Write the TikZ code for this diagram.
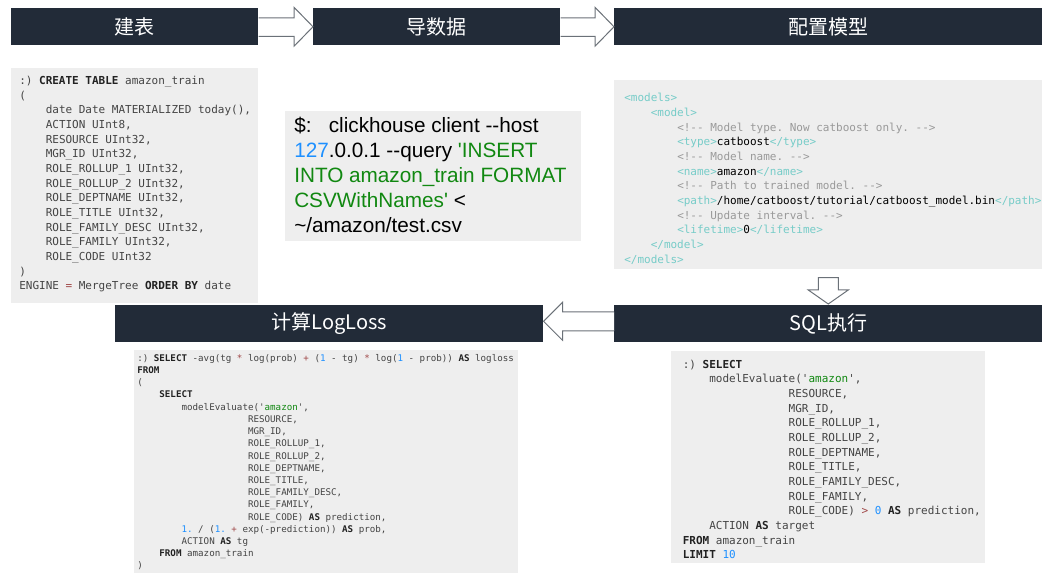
\documentclass[tikz,border=0pt]{standalone}
\usepackage{fontspec}
\usetikzlibrary{calc}
\newfontfamily\plainfont{Liberation Sans}
\newfontfamily\cjkfont{Noto Sans CJK SC}
\newfontfamily\codefont{DejaVu Sans Mono}
\AtBeginDocument{\frenchspacing}
\definecolor{barcol}{HTML}{222B38}
\definecolor{boxcol}{HTML}{EEEEEE}
\definecolor{codecol}{HTML}{444444}
\definecolor{kwcol}{HTML}{222222}
\definecolor{strcol}{HTML}{118811}
\definecolor{numcol}{HTML}{1E90FF}
\definecolor{opcol}{HTML}{A04848}
\definecolor{tagcol}{HTML}{76CCC8}
\definecolor{cmtcol}{HTML}{999999}
\definecolor{arrowcol}{HTML}{6B7178}
\newcommand\ind[1]{\hspace*{\dimexpr#1\fontcharwd\font`0\relax}}
\newcommand\kw[1]{\textcolor{kwcol}{\bfseries #1}}
\newcommand\str[1]{\textcolor{strcol}{#1}}
\newcommand\num[1]{\textcolor{numcol}{#1}}
\newcommand\op[1]{\textcolor{opcol}{#1}}
\newcommand\tg[1]{\textcolor{tagcol}{#1}}
\newcommand\cmt[1]{\textcolor{cmtcol}{#1}}
\tikzset{
  titlebar/.style={fill=barcol,text=white,inner sep=0,anchor=north west,font=\cjkfont\fontsize{15}{18}\selectfont},
  codebox/.style={fill=boxcol,inner sep=0,anchor=north west},
  codetext/.style={inner sep=0,anchor=north west,align=left,text=codecol,font=\codefont\fontsize{8.25}{11}\selectfont},
  smalltext/.style={inner sep=0,anchor=north west,align=left,text=codecol,font=\codefont\fontsize{6.9}{9.16}\selectfont},
  blockarrow/.style={fill=white,draw=arrowcol,line width=0.75pt,line join=miter},
}
\begin{document}
\begin{tikzpicture}[x=0.75pt,y=-0.75pt]
\useasboundingbox (0,0) rectangle (1047,573);
% title bars
\node[titlebar,minimum width=185.25pt,minimum height=27.75pt] (bara) at (11,8) {建表};
\node[titlebar,minimum width=185.25pt,minimum height=27.75pt] (barb) at (313,8) {导数据};
\node[titlebar,minimum width=321pt,minimum height=27.75pt] (barc) at (614,8) {配置模型};
\node[titlebar,minimum width=321pt,minimum height=27.75pt] (bare) at (115,305) {计算LogLoss};
\node[titlebar,minimum width=321pt,minimum height=27.75pt] (bard) at (614,305) {SQL执行};
% grey boxes
\node[codebox,minimum width=185.25pt,minimum height=176.25pt] (boxa) at (11,68) {};
\node[codebox,minimum width=222pt,minimum height=97.5pt] (boxb) at (285,111) {};
\node[codebox,minimum width=321pt,minimum height=141.75pt] (boxc) at (614,80) {};
\node[codebox,minimum width=235.5pt,minimum height=159pt] (boxd) at (671,351) {};
\node[codebox,minimum width=288pt,minimum height=167.25pt] (boxe) at (134,350) {};
% arrows
\filldraw[blockarrow] ($(bara.east)+(0,-9)$) -- ($(barb.west)+(-19,-9)$) -- ($(barb.west)+(-19,-19.5)$) -- (barb.west) -- ($(barb.west)+(-19,19.5)$) -- ($(barb.west)+(-19,9.5)$) -- ($(bara.east)+(0,9.5)$);
\filldraw[blockarrow] ($(barb.east)+(0,-9)$) -- ($(barc.west)+(-19,-9)$) -- ($(barc.west)+(-19,-19.5)$) -- (barc.west) -- ($(barc.west)+(-19,19.5)$) -- ($(barc.west)+(-19,9.5)$) -- ($(barb.east)+(0,9.5)$);
\coordinate (downstart) at ($(boxc.south)+(0,8)$);
\coordinate (downend) at ($(bard.north)+(0,-1)$);
\filldraw[blockarrow] ($(downstart)+(-10,0)$) -- ($(downstart)+(10,0)$) -- ($(downend)+(10,-14)$) -- ($(downend)+(20,-14)$) -- (downend) -- ($(downend)+(-20,-14)$) -- ($(downend)+(-10,-14)$) -- cycle;
\coordinate (leftstart) at ($(bard.west)+(0,-2.5)$);
\coordinate (leftend) at ($(bare.east)+(0,-2.5)$);
\filldraw[blockarrow] ($(leftstart)+(0,-9.5)$) -- ($(leftend)+(19,-9.5)$) -- ($(leftend)+(19,-19)$) -- (leftend) -- ($(leftend)+(19,19)$) -- ($(leftend)+(19,9.5)$) -- ($(leftstart)+(0,9.5)$);
% code
\node[codetext] (texta) at (19,76) {:) \kw{CREATE} \kw{TABLE} amazon\_train\\
(\\
\ind{4}date Date MATERIALIZED today(),\\
\ind{4}ACTION UInt8,\\
\ind{4}RESOURCE UInt32,\\
\ind{4}MGR\_ID UInt32,\\
\ind{4}ROLE\_ROLLUP\_1 UInt32,\\
\ind{4}ROLE\_ROLLUP\_2 UInt32,\\
\ind{4}ROLE\_DEPTNAME UInt32,\\
\ind{4}ROLE\_TITLE UInt32,\\
\ind{4}ROLE\_FAMILY\_DESC UInt32,\\
\ind{4}ROLE\_FAMILY UInt32,\\
\ind{4}ROLE\_CODE UInt32\\
)\\
ENGINE \op{=} MergeTree \kw{ORDER} \kw{BY} date};
\node[inner sep=0,anchor=north west,align=left,font=\plainfont\fontsize{15.55}{18.75}\selectfont] (textb) at (294,117) {\$:\ \ \ clickhouse client --host\\
\num{127}.0.0.1 --query \str{'INSERT}\\
\str{INTO amazon\_train FORMAT}\\
\str{CSVWithNames'} <\\
\textasciitilde/amazon/test.csv};
\node[codetext] (textc) at (624,93) {\tg{<models>}\\
\ind{4}\tg{<model>}\\
\ind{8}\cmt{<!-{}- Model type. Now catboost only. -{}->}\\
\ind{8}\tg{<type>}\textcolor{black}{catboost}\tg{</type>}\\
\ind{8}\cmt{<!-{}- Model name. -{}->}\\
\ind{8}\tg{<name>}\textcolor{black}{amazon}\tg{</name>}\\
\ind{8}\cmt{<!-{}- Path to trained model. -{}->}\\
\ind{8}\tg{<path>}\textcolor{black}{/home/catboost/tutorial/catboost\_model.bin}\tg{</path>}\\
\ind{8}\cmt{<!-{}- Update interval. -{}->}\\
\ind{8}\tg{<lifetime>}\textcolor{black}{0}\tg{</lifetime>}\\
\ind{4}\tg{</model>}\\
\tg{</models>}};
\node[codetext] (textd) at (682.5,359.5) {:) \kw{SELECT}\\
\ind{4}modelEvaluate('\str{amazon}',\\
\ind{16}RESOURCE,\\
\ind{16}MGR\_ID,\\
\ind{16}ROLE\_ROLLUP\_1,\\
\ind{16}ROLE\_ROLLUP\_2,\\
\ind{16}ROLE\_DEPTNAME,\\
\ind{16}ROLE\_TITLE,\\
\ind{16}ROLE\_FAMILY\_DESC,\\
\ind{16}ROLE\_FAMILY,\\
\ind{16}ROLE\_CODE) \op{>} \num{0} \kw{AS} prediction,\\
\ind{4}ACTION \kw{AS} target\\
\kw{FROM} amazon\_train\\
\kw{LIMIT} \num{10}};
\node[smalltext] (texte) at (137,354) {:) \kw{SELECT} -avg(tg \op{*} log(prob) \op{+} (\num{1} - tg) \op{*} log(\num{1} - prob)) \kw{AS} logloss\\
\kw{FROM}\\
(\\
\ind{4}\kw{SELECT}\\
\ind{8}modelEvaluate('\str{amazon}',\\
\ind{20}RESOURCE,\\
\ind{20}MGR\_ID,\\
\ind{20}ROLE\_ROLLUP\_1,\\
\ind{20}ROLE\_ROLLUP\_2,\\
\ind{20}ROLE\_DEPTNAME,\\
\ind{20}ROLE\_TITLE,\\
\ind{20}ROLE\_FAMILY\_DESC,\\
\ind{20}ROLE\_FAMILY,\\
\ind{20}ROLE\_CODE) \kw{AS} prediction,\\
\ind{8}\num{1.} / (\num{1.} \op{+} exp(-prediction)) \kw{AS} prob,\\
\ind{8}ACTION \kw{AS} tg\\
\ind{4}\kw{FROM} amazon\_train\\
)};
\end{tikzpicture}
\end{document}
